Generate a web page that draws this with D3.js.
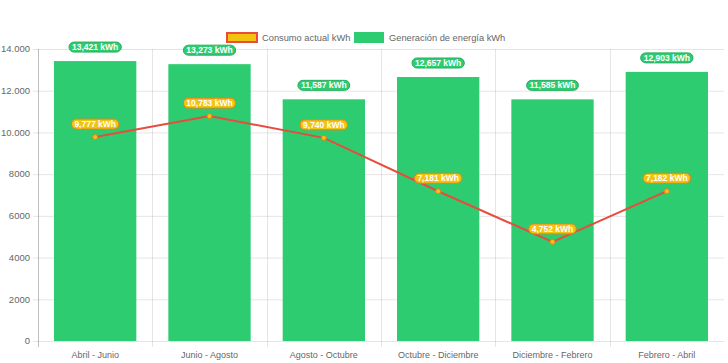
<!DOCTYPE html>
<html>
<head>
<meta charset="utf-8">
<script src="https://cdnjs.cloudflare.com/ajax/libs/d3/7.8.5/d3.min.js"></script>
<style>
  body { margin: 0; background: #fff; }
  text { font-family: Arial, "Liberation Sans", sans-serif; }
</style>
</head>
<body>
<div id="chart"></div>
<script>
var categories = ["Abril - Junio", "Junio - Agosto", "Agosto - Octubre", "Octubre - Diciembre", "Diciembre - Febrero", "Febrero - Abril"];
var generacion = [13421, 13273, 11587, 12657, 11585, 12903];
var consumo = [9777, 10783, 9740, 7181, 4752, 7182];
var yTicks = [0, 2000, 4000, 6000, 8000, 10000, 12000, 14000];
var seriesNames = ["Consumo actual kWh", "Generación de energía kWh"];

var svgWidth = 728;
var svgHeight = 363;

var margin = {
  top: 49,
  right: 4,
  bottom: 22,
  left: 38
};

var width = svgWidth - margin.left - margin.right;
var height = svgHeight - margin.top - margin.bottom;

var svg = d3.select("#chart")
  .append("svg")
  .attr("width", svgWidth)
  .attr("height", svgHeight);

var chartGroup = svg.append("g")
  .attr("transform", `translate(${margin.left}, ${margin.top})`);

var xScale = d3.scaleBand()
  .domain(categories)
  .range([0, width]);

var yScale = d3.scaleLinear()
  .domain([0, 14000])
  .range([height, 0]);

var fmtTick = function(v) {
  return v >= 10000 ? d3.format(",")(v).replace(",", ".") : String(v);
};
var fmtLabel = d3.format(",");

// grid lines
chartGroup.selectAll("line.hgrid")
  .data(yTicks)
  .enter()
  .append("line")
  .attr("class", "hgrid")
  .attr("x1", -5)
  .attr("x2", width)
  .attr("y1", d => yScale(d) + 0.5)
  .attr("y2", d => yScale(d) + 0.5)
  .attr("stroke", "rgba(0,0,0,0.1)");

var bounds = d3.range(categories.length);
chartGroup.selectAll("line.vgrid")
  .data(bounds)
  .enter()
  .append("line")
  .attr("class", "vgrid")
  .attr("x1", d => Math.round(d * xScale.step()) + 0.5)
  .attr("x2", d => Math.round(d * xScale.step()) + 0.5)
  .attr("y1", 0)
  .attr("y2", height + 6)
  .attr("stroke", d => d === 0 ? "rgba(0,0,0,0.25)" : "rgba(0,0,0,0.1)");

// axes labels
chartGroup.selectAll("text.ytick")
  .data(yTicks)
  .enter()
  .append("text")
  .attr("class", "ytick")
  .attr("x", -8)
  .attr("y", d => yScale(d))
  .attr("dy", "0.35em")
  .attr("text-anchor", "end")
  .attr("fill", "#666")
  .attr("font-size", 9.5)
  .text(fmtTick);

chartGroup.selectAll("text.xtick")
  .data(categories)
  .enter()
  .append("text")
  .attr("class", "xtick")
  .attr("x", d => xScale(d) + xScale.bandwidth() / 2)
  .attr("y", height + 17)
  .attr("text-anchor", "middle")
  .attr("fill", "#666")
  .attr("font-size", 9)
  .text(d => d);

// bars
var barW = xScale.bandwidth() * 0.72;
chartGroup.selectAll("rect.bar")
  .data(generacion)
  .enter()
  .append("rect")
  .attr("class", "bar")
  .attr("x", (d, i) => xScale(categories[i]) + (xScale.bandwidth() - barW) / 2)
  .attr("y", d => yScale(d))
  .attr("width", barW)
  .attr("height", d => height - yScale(d))
  .attr("fill", "#2ecc71");

// line
var cx = (d, i) => xScale(categories[i]) + xScale.bandwidth() / 2;
var line = d3.line()
  .x(cx)
  .y(d => yScale(d));

chartGroup.append("path")
  .datum(consumo)
  .attr("d", line)
  .attr("fill", "none")
  .attr("stroke", "#e74c3c")
  .attr("stroke-width", 2);

chartGroup.selectAll("circle.pt")
  .data(consumo)
  .enter()
  .append("circle")
  .attr("class", "pt")
  .attr("cx", cx)
  .attr("cy", d => yScale(d))
  .attr("r", 2.5)
  .attr("fill", "#f1c40f")
  .attr("stroke", "#e67e22")
  .attr("stroke-width", 1);

// data labels
function addLabels(values, fill, stroke, offset) {
  var g = chartGroup.selectAll(null)
    .data(values)
    .enter()
    .append("g")
    .attr("transform", (d, i) => `translate(${cx(d, i)}, ${yScale(d) - offset})`);

  g.append("text")
    .attr("text-anchor", "middle")
    .attr("dy", "0.35em")
    .attr("fill", "#fff")
    .attr("font-size", 8.5)
    .attr("font-weight", "bold")
    .text(d => fmtLabel(d) + " kWh");

  g.insert("rect", "text")
    .attr("x", function() { return -this.parentNode.querySelector("text").getComputedTextLength() / 2 - 3; })
    .attr("y", -5)
    .attr("width", function() { return this.parentNode.querySelector("text").getComputedTextLength() + 6; })
    .attr("height", 10)
    .attr("rx", 5)
    .attr("fill", fill)
    .attr("stroke", stroke)
    .attr("stroke-width", 1);
}

addLabels(generacion, "#2ecc71", "#27ae60", 14);
addLabels(consumo, "#f1c40f", "#e67e22", 13);

// legend
var legend = svg.append("g");
legend.append("rect")
  .attr("x", 227).attr("y", 33)
  .attr("width", 30).attr("height", 9)
  .attr("fill", "#f1c40f")
  .attr("stroke", "#e74c3c")
  .attr("stroke-width", 2);
legend.append("text")
  .attr("x", 262).attr("y", 38)
  .attr("dy", "0.35em")
  .attr("fill", "#666")
  .attr("font-size", 9.3)
  .text(seriesNames[0]);
legend.append("rect")
  .attr("x", 354).attr("y", 32)
  .attr("width", 30).attr("height", 11)
  .attr("fill", "#2ecc71");
legend.append("text")
  .attr("x", 389).attr("y", 38)
  .attr("dy", "0.35em")
  .attr("fill", "#666")
  .attr("font-size", 9.3)
  .text(seriesNames[1]);
</script>
</body>
</html>
